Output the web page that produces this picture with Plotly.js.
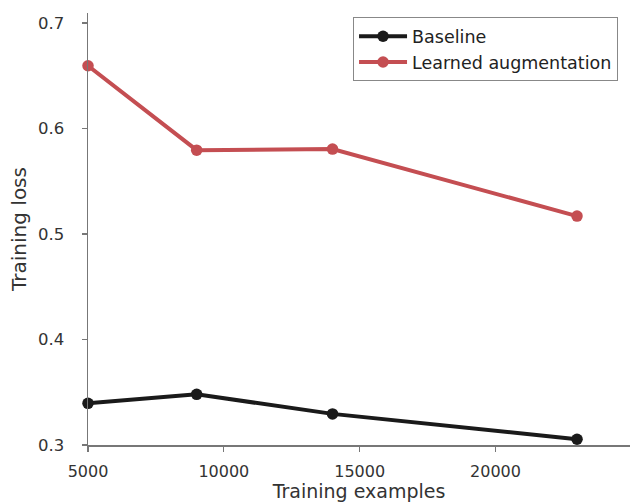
<!DOCTYPE html>
<html>
<head>
<meta charset="utf-8">
<script src="https://cdn.plot.ly/plotly-3.0.1.min.js"></script>
<style>html,body{margin:0;padding:0;background:#fff;}#chart{width:631px;height:502px;}</style>
</head>
<body>
<div id="chart"></div>
<script>
const trainingExamples = [5000, 9000, 14000, 23000];
const baselineLoss = [0.3395, 0.348, 0.3295, 0.3055];
const augmentedLoss = [0.6595, 0.5795, 0.5805, 0.517];
const xTicks = [5000, 10000, 15000, 20000];
const yTicks = [0.3, 0.4, 0.5, 0.6, 0.7];
const yTickLabels = ['0.3', '0.4', '0.5', '0.6', '0.7'];

const traces = [
  {x: trainingExamples, y: baselineLoss, name: 'Baseline', mode: 'lines+markers',
   line: {color: '#1a1a1a', width: 4}, marker: {color: '#1a1a1a', size: 11.5}, cliponaxis: false},
  {x: trainingExamples, y: augmentedLoss, name: 'Learned augmentation', mode: 'lines+markers',
   line: {color: '#c44e52', width: 4}, marker: {color: '#c44e52', size: 11.5}, cliponaxis: false}
];

const layout = {
  width: 631, height: 502,
  margin: {l: 88, r: 1, t: 13, b: 57},
  paper_bgcolor: '#fff', plot_bgcolor: '#fff',
  font: {family: 'DejaVu Sans, sans-serif', color: '#333', size: 16},
  showlegend: true,
  legend: {x: 0.489, y: 0.99, xanchor: 'left', yanchor: 'top', bgcolor: '#fff',
           bordercolor: '#888', borderwidth: 1, font: {size: 17.5, color: '#222'},
           tracegroupgap: 0, itemwidth: 48},
  xaxis: {range: [5000, 24950], tickvals: xTicks, ticktext: xTicks.map(String),
          showgrid: false, zeroline: false, showline: true, linecolor: '#777', linewidth: 1.5,
          ticks: 'outside', ticklen: 5, tickcolor: '#777', tickwidth: 1.2,
          ticklabelstandoff: 6,
          tickfont: {size: 16, color: '#333'},
          title: {text: 'Training examples', font: {size: 19, color: '#333'}, standoff: 3}},
  yaxis: {range: [0.3, 0.7095], tickvals: yTicks, ticktext: yTickLabels,
          showgrid: false, zeroline: false, showline: true, linecolor: '#777', linewidth: 1.5,
          ticks: 'outside', ticklen: 5, tickcolor: '#777', tickwidth: 1.2,
          ticklabelstandoff: 14,
          tickfont: {size: 16.5, color: '#333'},
          title: {text: 'Training loss', font: {size: 20, color: '#333'}, standoff: 6}}
};

Plotly.newPlot('chart', traces, layout, {displayModeBar: false, staticPlot: true});
</script>
</body>
</html>
